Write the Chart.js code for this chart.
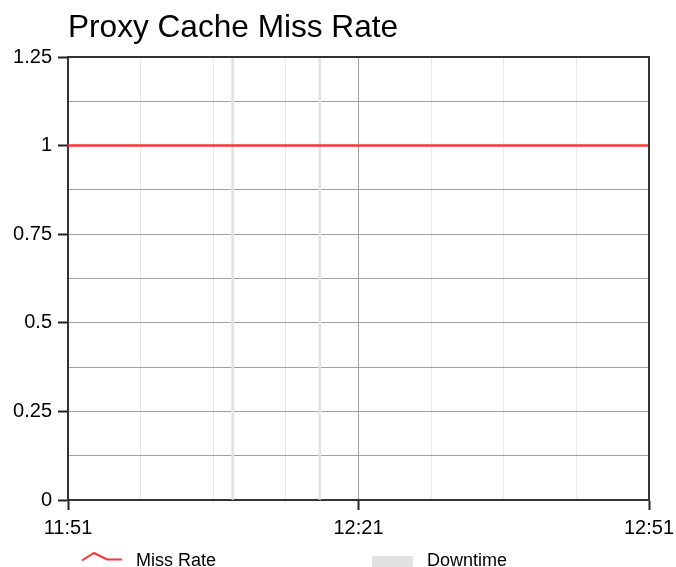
<!DOCTYPE html>
<html>
<head>
<meta charset="utf-8">
<script src="https://cdn.jsdelivr.net/npm/chart.js@4/dist/chart.umd.min.js"></script>
<style>
  html, body { margin: 0; padding: 0; background: #ffffff; }
  canvas { display: block; }
</style>
</head>
<body>
<canvas id="c" width="676" height="567"></canvas>
<script>
// ---- data ----
const chartTitle = 'Proxy Cache Miss Rate';
const seriesNames = ['Miss Rate', 'Downtime'];
// minutes after 11:51
const missRateMinutes = [0, 5, 10, 15, 20, 25, 30, 35, 40, 45, 50, 55, 60];
const missRateValues  = [1, 1, 1, 1, 1, 1, 1, 1, 1, 1, 1, 1, 1];
const downtimeMinutes = [17, 26];
const downtimeValues  = [1.25, 1.25];
const xTickMinutes = [0, 30, 60];
const xTickLabels  = ['11:51', '12:21', '12:51'];
const yTickValues  = [0, 0.25, 0.5, 0.75, 1, 1.25];
const yTickLabels  = ['0', '0.25', '0.5', '0.75', '1', '1.25'];

const RED = '#ff3333';
const DOWN = '#e2e2e2';
const FONT = '"Liberation Sans", Arial, sans-serif';

function xLabel(v) {
  const i = xTickMinutes.findIndex(m => Math.abs(m - v) < 1e-6);
  return i >= 0 ? xTickLabels[i] : '';
}
function yLabel(v) {
  const i = yTickValues.findIndex(m => Math.abs(m - v) < 1e-6);
  return i >= 0 ? yTickLabels[i] : '';
}

const decor = {
  id: 'decor',
  afterDraw(chart) {
    const ctx = chart.ctx;
    const a = chart.chartArea;
    ctx.save();
    // frame
    ctx.strokeStyle = '#333333';
    ctx.lineWidth = 2;
    ctx.beginPath();
    ctx.moveTo(a.left, a.top);
    ctx.lineTo(a.right, a.top);
    ctx.lineTo(a.right, a.bottom);
    ctx.stroke();
    // title
    ctx.fillStyle = '#000000';
    ctx.font = '31.6px ' + FONT;
    ctx.textBaseline = 'alphabetic';
    ctx.textAlign = 'left';
    ctx.fillText(chartTitle, 68, 37);
    // legend
    ctx.font = '18px ' + FONT;
    const ds = chart.data.datasets;
    // Miss Rate icon
    ctx.strokeStyle = ds[0].borderColor;
    ctx.lineWidth = 2;
    ctx.lineJoin = 'miter';
    ctx.beginPath();
    ctx.moveTo(82, 560.5);
    ctx.lineTo(94, 553);
    ctx.lineTo(107, 559.5);
    ctx.lineTo(122, 559.5);
    ctx.stroke();
    ctx.fillText(ds[0].label, 136, 566);
    // Downtime icon
    ctx.fillStyle = ds[1].backgroundColor;
    ctx.fillRect(372, 556, 41, 14);
    ctx.fillStyle = '#000000';
    ctx.fillText(ds[1].label, 427, 566);
    ctx.restore();
  }
};

new Chart(document.getElementById('c'), {
  data: {
    datasets: [
      {
        type: 'line',
        label: seriesNames[0],
        data: missRateMinutes.map((m, i) => ({ x: m, y: missRateValues[i] })),
        borderColor: RED,
        backgroundColor: RED,
        borderWidth: 2.5,
        pointRadius: 0,
        tension: 0,
        order: 0
      },
      {
        type: 'bar',
        label: seriesNames[1],
        data: downtimeMinutes.map((m, i) => ({ x: m, y: downtimeValues[i] })),
        backgroundColor: DOWN,
        borderWidth: 0,
        barThickness: 2,
        order: 1
      }
    ]
  },
  options: {
    responsive: false,
    animation: false,
    layout: { padding: { top: 57, right: 27, bottom: 0, left: 0 } },
    plugins: {
      legend: { display: false },
      title: { display: false },
      tooltip: { enabled: false }
    },
    scales: {
      x: {
        type: 'linear',
        min: 0,
        max: 60,
        offset: false,
        afterFit(s) { s.height = 67; s.paddingLeft = 0; s.paddingRight = 0; },
        ticks: {
          stepSize: 7.5,
          autoSkip: false,
          maxRotation: 0,
          minRotation: 0,
          padding: 6,
          color: '#000000',
          font: { family: FONT, size: 20 },
          callback: v => xLabel(v)
        },
        grid: {
          offset: false,
          color: c => (c.tick && Math.abs(c.tick.value - 30) < 1e-6) ? '#a0a0a0' : '#e8e8e8',
          lineWidth: 1,
          tickLength: 10,
          tickWidth: 2,
          tickColor: c => (c.tick && xLabel(c.tick.value) !== '') ? '#222222' : 'rgba(0,0,0,0)'
        },
        border: { color: '#333333', width: 2 }
      },
      y: {
        type: 'linear',
        min: 0,
        max: 1.25,
        afterFit(s) { s.width = 68; s.paddingTop = 0; s.paddingBottom = 0; },
        ticks: {
          stepSize: 0.125,
          autoSkip: false,
          padding: 6,
          color: '#000000',
          font: { family: FONT, size: 20 },
          callback: v => yLabel(v)
        },
        grid: {
          color: '#a0a0a0',
          lineWidth: 1,
          tickLength: 10,
          tickWidth: 2,
          tickColor: c => (c.tick && yLabel(c.tick.value) !== '') ? '#222222' : 'rgba(0,0,0,0)'
        },
        border: { color: '#333333', width: 2 }
      }
    }
  },
  plugins: [decor]
});
</script>
</body>
</html>
